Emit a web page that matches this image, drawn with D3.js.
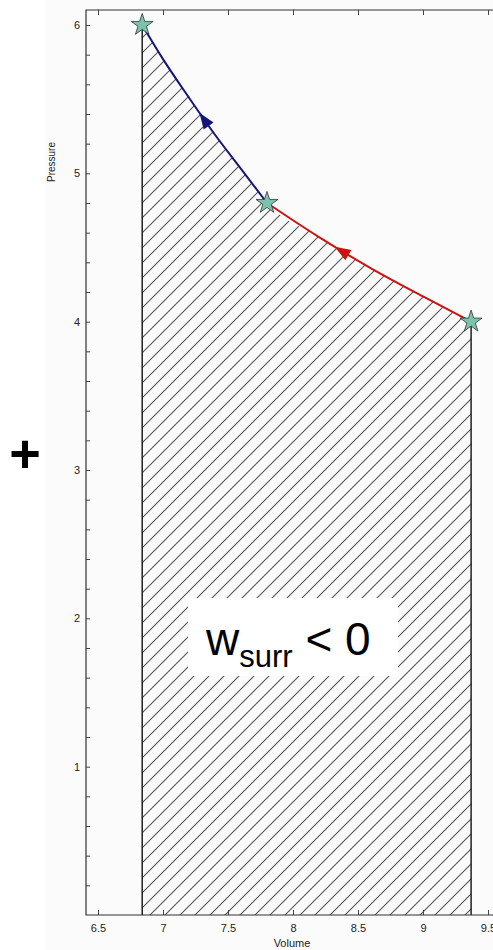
<!DOCTYPE html>
<html>
<head>
<meta charset="utf-8">
<script src="https://cdn.jsdelivr.net/npm/d3@7"></script>
<style>
html,body{margin:0;padding:0;background:#fff;}
svg{display:block;font-family:"Liberation Sans",Arial,Helvetica,sans-serif;}
</style>
</head>
<body>
<svg id="chart" width="493" height="950"></svg>
<script>
// ---- data ----
const blueV = [6.84, 7.0, 7.2, 7.4, 7.6, 7.8];      // adiabatic-looking segment
const blueP = [6.0, 5.77, 5.51, 5.26, 5.03, 4.8];
const redV  = [7.8, 8.2, 8.6, 9.0, 9.37];           // isothermal-looking segment
const redP  = [4.8, 4.57, 4.36, 4.17, 4.0];
const stateV = [6.84, 7.8, 9.37];
const stateP = [6.0, 4.8, 4.0];
const arrowV = [7.32, 8.38];                        // arrow positions on the curves
const xTicks = [6.5, 7, 7.5, 8, 8.5, 9, 9.5];
const yMajor = [1, 2, 3, 4, 5, 6];
const yTicks = d3.range(1, 31).map(i => +(i * 0.2).toFixed(1));
const xLabel = "Volume";
const yLabel = "Pressure";

const svg = d3.select("#chart");
const W = 493, H = 950;
const mLeft = 86, mTop = 10, mBottom = 915, mRight = 505;

const x = d3.scaleLinear().domain([6.5, 9.5]).range([98, 488]);
const y = d3.scaleLinear().domain([0, 6]).range([mBottom, 25]);

// figure background
svg.append("rect").attr("x", 45).attr("y", 0).attr("width", W - 45).attr("height", H).attr("fill", "#fbfbfb");

const defs = svg.append("defs");
const pat = defs.append("pattern").attr("id", "hatch").attr("patternUnits", "userSpaceOnUse")
  .attr("width", 15).attr("height", 15);
pat.append("path").attr("d", "M0,15 L15,0 M-3,3 L3,-3 M12,18 L18,12")
  .attr("stroke", "#555").attr("stroke-width", 1.1);

const line = d3.line().x(d => x(d[0])).y(d => y(d[1])).curve(d3.curveMonotoneX);
const bluePts = blueV.map((v, i) => [v, blueP[i]]);
const redPts = redV.map((v, i) => [v, redP[i]]);

// hatched area under the path
const area = d3.area().x(d => x(d[0])).y0(y(0)).y1(d => y(d[1])).curve(d3.curveMonotoneX);
const allPts = bluePts.concat(redPts.slice(1));
svg.append("path").attr("d", area(allPts)).attr("fill", "url(#hatch)");

// vertical lines at the ends
[0, 2].forEach(i => {
  svg.append("line").attr("x1", x(stateV[i])).attr("x2", x(stateV[i]))
    .attr("y1", y(0)).attr("y2", y(stateP[i]))
    .attr("stroke", "#111").attr("stroke-width", 1.4);
});

// curves
const bluePath = svg.append("path").attr("d", line(bluePts)).attr("fill", "none")
  .attr("stroke", "#16167a").attr("stroke-width", 2);
const redPath = svg.append("path").attr("d", line(redPts)).attr("fill", "none")
  .attr("stroke", "#cc1212").attr("stroke-width", 2);

// arrows (direction: toward smaller volume)
function placeArrow(pathSel, v, color) {
  const node = pathSel.node();
  const L = node.getTotalLength();
  let lo = 0, hi = L;
  const tx = x(v);
  for (let k = 0; k < 40; k++) {
    const mid = (lo + hi) / 2;
    if (node.getPointAtLength(mid).x < tx) lo = mid; else hi = mid;
  }
  const l = (lo + hi) / 2;
  const p = node.getPointAtLength(l);
  const a = node.getPointAtLength(Math.max(0, l - 2));
  const b = node.getPointAtLength(Math.min(L, l + 2));
  const ang = Math.atan2(a.y - b.y, a.x - b.x) * 180 / Math.PI;
  svg.append("path").attr("d", "M9,0 L-7,-6 L-7,6 Z")
    .attr("transform", `translate(${p.x},${p.y}) rotate(${ang})`)
    .attr("fill", color);
}
placeArrow(bluePath, arrowV[0], "#16167a");
placeArrow(redPath, arrowV[1], "#cc1212");

// axes
const xb = svg.append("g").attr("transform", `translate(0,${mBottom})`)
  .call(d3.axisBottom(x).tickValues(xTicks).tickSize(-5).tickPadding(9).tickFormat(d3.format("")));
xb.select(".domain").remove();
const xt = svg.append("g").attr("transform", `translate(0,${mTop})`)
  .call(d3.axisTop(x).tickValues(xTicks).tickSize(-5).tickFormat(""));
xt.select(".domain").remove();
const yl = svg.append("g").attr("transform", `translate(${mLeft},0)`)
  .call(d3.axisLeft(y).tickValues(yTicks).tickSize(-4).tickPadding(6)
    .tickFormat(d => yMajor.includes(d) ? d3.format("d")(d) : ""));
yl.select(".domain").remove();
svg.selectAll(".tick line").attr("stroke", "#444");
svg.selectAll(".tick text").attr("font-size", 11).attr("fill", "#222")
  .attr("font-family", "Liberation Sans, Arial, sans-serif");

svg.append("path").attr("d", `M${mRight},${mTop} H${mLeft} V${mBottom} H${mRight}`)
  .attr("fill", "none").attr("stroke", "#333").attr("stroke-width", 1.2);

// axis labels
svg.append("text").attr("x", 292).attr("y", 947).attr("text-anchor", "middle")
  .attr("font-size", 11).attr("fill", "#222").text(xLabel);
svg.append("text").attr("transform", "translate(55,162) rotate(-90)").attr("text-anchor", "middle")
  .attr("font-size", 10).attr("fill", "#222").text(yLabel);

// stars
svg.selectAll(".star").data(stateV).enter().append("path").attr("class", "star")
  .attr("d", d3.symbol().type(d3.symbolStar).size(150))
  .attr("transform", (d, i) => `translate(${x(d)},${y(stateP[i])})`)
  .attr("fill", "#7cc3ae").attr("stroke", "#333").attr("stroke-width", 0.8);

// label box
svg.append("rect").attr("x", 188).attr("y", 598).attr("width", 210).attr("height", 78).attr("fill", "#fff");
const t = svg.append("text").attr("x", 206).attr("y", 655).attr("font-size", 46).attr("fill", "#000");
t.append("tspan").text("w");
t.append("tspan").attr("font-size", 31).attr("dy", 12).text("surr");
t.append("tspan").attr("dy", -12).text(" < 0");

// plus sign
svg.append("text").attr("x", 25).attr("y", 472).attr("text-anchor", "middle")
  .attr("font-size", 54).attr("font-weight", "bold").attr("fill", "#000").text("+");
</script>
</body>
</html>
